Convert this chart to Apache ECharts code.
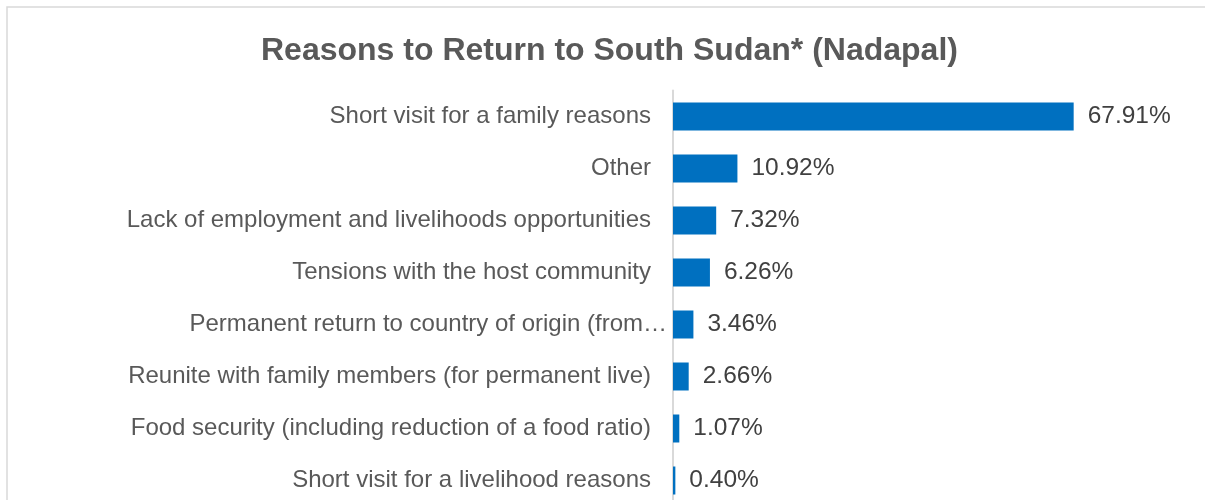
<!DOCTYPE html>
<html>
<head>
<meta charset="utf-8">
<script src="https://cdn.jsdelivr.net/npm/echarts@6/dist/echarts.min.js"></script>
<style>
  html, body { margin: 0; padding: 0; background: #fff; overflow: hidden; }
  #chart { width: 1205px; height: 520px; }
</style>
</head>
<body>
<div id="chart"></div>
<script>
// Reasons given for returning to South Sudan, Nadapal crossing point
const categories = [
  'Short visit for a family reasons',
  'Other',
  'Lack of employment and livelihoods opportunities',
  'Tensions with the host community',
  'Permanent return to country of origin (from…',
  'Reunite with family members (for permanent live)',
  'Food security (including reduction of a food ratio)',
  'Short visit for a livelihood reasons'
];
const shares = [67.91, 10.92, 7.32, 6.26, 3.46, 2.66, 1.07, 0.40];

const labelFont = 'Liberation Sans, Arial, sans-serif';

const chart = echarts.init(document.getElementById('chart'), null, { renderer: 'canvas' });

chart.setOption({
  backgroundColor: '#ffffff',
  animation: false,
  title: {
    text: 'Reasons to Return to South Sudan* (Nadapal)',
    left: 256,
    top: 30,
    textStyle: {
      fontFamily: labelFont,
      fontSize: 32,
      fontWeight: 'bold',
      color: '#595959'
    }
  },
  graphic: [{
    type: 'rect',
    silent: true,
    z: -1,
    shape: { x: 7, y: 7, width: 1400, height: 700 },
    style: { fill: 'none', stroke: '#D9D9D9', lineWidth: 1.5 }
  }],
  grid: { left: 673, top: 90.5, width: 472, height: 416, containLabel: false },
  xAxis: {
    type: 'value',
    min: 0,
    max: 80,
    show: false
  },
  yAxis: {
    type: 'category',
    data: categories,
    inverse: true,
    axisLine: { show: true, lineStyle: { color: '#D9D9D9', width: 2 } },
    axisTick: { show: false },
    axisLabel: {
      margin: 22,
      fontFamily: labelFont,
      fontSize: 24,
      color: '#595959',
      // a truncated name runs on up to the axis line
      formatter: v => v.endsWith('…') ? '{cut|' + v + '}' : v,
      rich: {
        cut: {
          fontFamily: labelFont,
          fontSize: 24,
          color: '#595959',
          padding: [0, -16, 0, 0]
        }
      }
    }
  },
  series: [{
    type: 'bar',
    data: shares,
    barWidth: 28,
    itemStyle: { color: '#0070C0' },
    label: {
      show: true,
      position: 'right',
      distance: 14,
      fontFamily: labelFont,
      fontSize: 24.5,
      color: '#404040',
      formatter: p => p.value.toFixed(2) + '%'
    }
  }]
});
</script>
</body>
</html>
